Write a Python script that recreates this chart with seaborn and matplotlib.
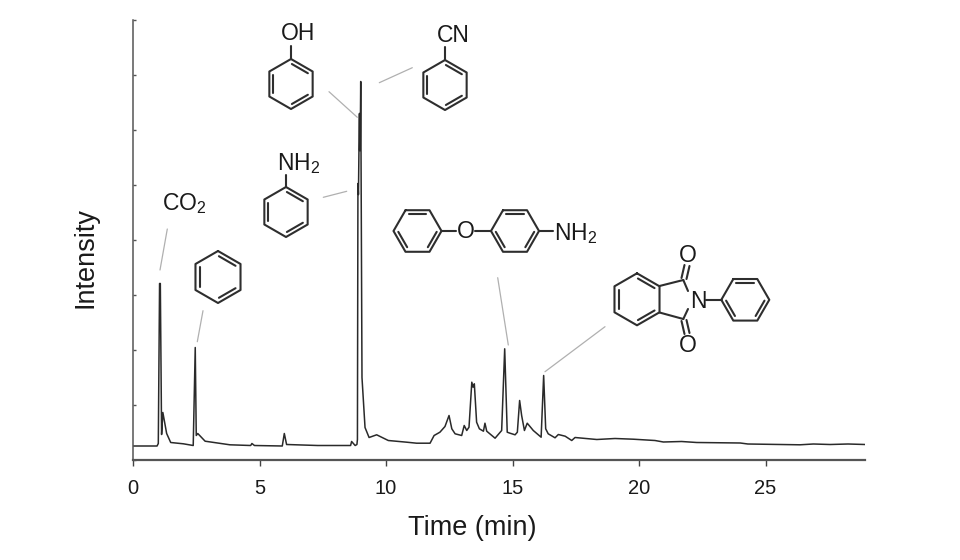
import numpy as np
import matplotlib
matplotlib.use('Agg')
import matplotlib.pyplot as plt
import seaborn as sns

# Chromatogram trace
time_min = [0, 0.95, 1.0, 1.05, 1.08, 1.13, 1.18, 1.33, 1.49, 1.99, 2.38, 2.46, 2.5, 2.56, 2.85, 3.83,
            4.65, 4.7, 4.8, 5.9, 5.98, 6.07, 7.3, 8.6, 8.64, 8.78, 8.85, 8.87, 8.89, 8.91, 8.93, 8.95,
            8.96, 8.97, 8.98, 8.99, 9.0, 9.05, 9.17, 9.33, 9.63, 10.09, 10.82, 11.21, 11.74, 11.9, 12.13,
            12.33, 12.49, 12.6, 12.73, 12.99, 13.09, 13.19, 13.28, 13.39, 13.44, 13.49, 13.58, 13.69,
            13.85, 13.91, 13.98, 14.31, 14.57, 14.69, 14.79, 14.9, 15.1, 15.19, 15.28, 15.36, 15.47,
            15.58, 15.69, 15.82, 16.13, 16.23, 16.31, 16.41, 16.68, 16.81, 17.08, 17.34, 17.47, 18.33,
            19.05, 19.77, 20.63, 20.96, 21.68, 22.28, 24.0, 24.3, 26.36, 26.89, 27.55, 28.26, 28.93]
intensity = [13.5, 13.5, 16, 176, 176, 25, 47, 26, 17, 15.7, 14, 112, 24, 26, 18.3, 14.7,
             14, 16, 14, 13.5, 26, 15, 14, 14, 18, 14, 15, 20, 276, 265, 309, 346,
             309, 346, 309, 346, 378, 82, 32, 22, 24.7, 19, 17.3, 16.3, 16.3, 24, 27.3,
             33, 44, 30.7, 25.7, 24, 34, 29, 32.3, 77.3, 72.3, 75.7, 37.3, 30.7,
             28.3, 36.3, 28.3, 21.3, 29, 110.7, 27.3, 26.3, 24.7, 27.3, 59, 44, 29,
             36.3, 33, 29, 22.3, 84, 30.7, 25.7, 21.7, 25, 23.3, 19, 22, 20,
             21, 20.3, 19, 17.5, 18, 17, 16.5, 15.5, 14.7, 15.5, 15, 15.5, 15]
x_ticks = [0, 5, 10, 15, 20, 25]
y_ticks = [0, 55, 110, 165, 220, 275, 330, 385, 440]

sns.set_theme(style='ticks')
plt.rcParams['font.family'] = ['Liberation Sans', 'DejaVu Sans']
plt.rcParams['mathtext.default'] = 'regular'

fig = plt.figure(figsize=(9.6, 5.6), dpi=100)
ax = fig.add_axes([133 / 960, 100.5 / 560, 732 / 960, 440 / 560])
sns.lineplot(x=time_min, y=intensity, estimator=None, sort=False, color='#2a2a2a', linewidth=1.1, ax=ax)
ax.set_xlim(0, 28.93)
ax.set_ylim(0, 440)
ax.set_xticks(x_ticks)
ax.set_yticks(y_ticks)
ax.set_yticklabels([])
ax.tick_params(axis='x', direction='out', length=4.5, width=1, color='#444444', labelsize=14.5, labelcolor='#1a1a1a', pad=9.5)
ax.tick_params(axis='y', direction='in', length=2, width=1, color='#555555')
ax.set_xlabel('Time (min)', fontsize=19.5, color='#1a1a1a', labelpad=12.5, x=(472 - 133) / 732)
ax.set_ylabel('Intensity', fontsize=19.5, color='#1a1a1a', labelpad=21, y=0.459)
sns.despine(ax=ax)
for side in ['left', 'bottom']:
    ax.spines[side].set_color('#555555')
ax.spines['left'].set_linewidth(1.1)
ax.spines['bottom'].set_linewidth(1.6)

# Overlay in pixel coordinates for the molecule drawings and leader lines
ov = fig.add_axes([0, 0, 1, 1])
ov.set_xlim(0, 960)
ov.set_ylim(560, 0)
ov.axis('off')
ov.patch.set_alpha(0)

BOND = '#2e2e2e'


def bond(x0, y0, x1, y1, lw=1.5):
    ov.plot([x0, x1], [y0, y1], color=BOND, lw=lw, solid_capstyle='round')


def hexagon(cx, cy, r, start):
    ang = np.radians(start + 60 * np.arange(7))
    xs = cx + r * np.cos(ang)
    ys = cy + r * np.sin(ang)
    ov.plot(xs, ys, color=BOND, lw=1.5, solid_joinstyle='round')
    for k in [0, 2, 4]:
        ix = cx + 0.82 * r * np.cos(ang[k:k + 2])
        iy = cy + 0.82 * r * np.sin(ang[k:k + 2])
        # shorten the inner line a little
        dx, dy = (ix[1] - ix[0]) * 0.05, (iy[1] - iy[0]) * 0.05
        bond(ix[0] + dx, iy[0] + dy, ix[1] - dx, iy[1] - dy)


def label(x, y, s):
    ov.text(x, y, s, fontsize=16.5, color='#1a1a1a', ha='center', va='center')


# leader lines
leaders = [(167.3, 229, 160, 270), (203, 310.7, 197.3, 341.7), (329, 91.7, 357.3, 117.3),
           (412.3, 67.7, 379.3, 82.7), (346.7, 191.3, 323.3, 197.3), (497.7, 277.7, 508.3, 345),
           (605, 326.7, 545, 371.7)]
for x0, y0, x1, y1 in leaders:
    ov.plot([x0, x1], [y0, y1], color='#b0b0b0', lw=0.9)

label(184, 204, 'CO$_2$')

# benzene
hexagon(218, 277, 26, -90)

# phenol
hexagon(291, 84, 25, -90)
bond(291, 59, 291, 46)
label(298, 33.5, 'OH')

# benzonitrile
hexagon(445, 85, 25, -90)
bond(445, 60, 445, 47)
label(453, 35.5, 'CN')

# aniline
hexagon(286, 212, 25, -90)
bond(286, 187, 286, 175)
label(299, 164, 'NH$_2$')

# 4-phenoxyaniline
hexagon(417.5, 231, 24, -120)
bond(441.5, 231, 456, 231)
label(465.7, 232, 'O')
bond(475, 231, 491, 231)
hexagon(515, 231, 24, -120)
bond(539, 231, 553, 231)
label(576, 234, 'NH$_2$')

# N-phenylphthalimide
hexagon(637, 299.3, 26, -90)
bond(659.5, 286, 683.3, 280)
bond(659.5, 312.5, 683.3, 319)
bond(683.3, 280, 688, 291)
bond(683.3, 319, 688, 309)
label(698, 301, 'N')
bond(686.5, 279, 689.5, 266)
bond(681.5, 278, 684.5, 265)
bond(686.5, 320, 689.5, 333)
bond(681.5, 321, 684.5, 334)
label(688, 255.5, 'O')
label(688, 345, 'O')
bond(706, 299.5, 721.5, 299.5)
hexagon(745.3, 299.8, 24, -120)

fig.savefig('out.png', dpi=100)
